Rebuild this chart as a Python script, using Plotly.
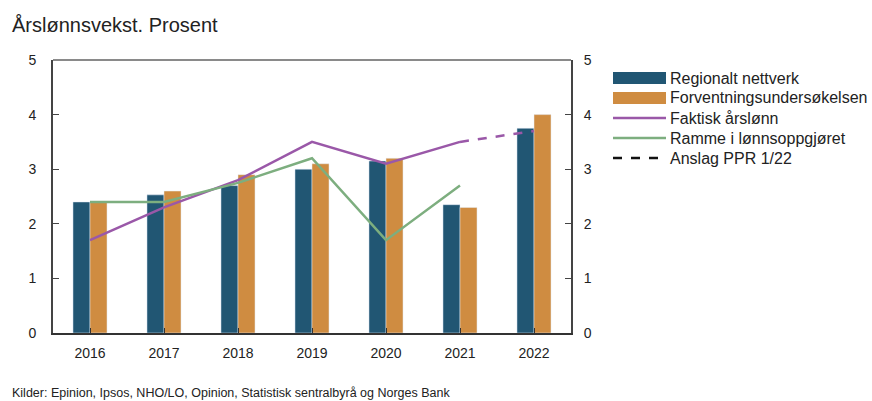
import plotly.graph_objects as go

years = ["2016", "2017", "2018", "2019", "2020", "2021", "2022"]
regionalt = [2.4, 2.53, 2.7, 3.0, 3.15, 2.35, 3.75]
forventning = [2.4, 2.6, 2.9, 3.1, 3.2, 2.3, 4.0]
faktisk_years = ["2016", "2017", "2018", "2019", "2020", "2021"]
faktisk = [1.7, 2.3, 2.8, 3.5, 3.1, 3.5]
anslag_years = ["2021", "2022"]
anslag = [3.5, 3.7]
ramme_years = ["2016", "2017", "2018", "2019", "2020", "2021"]
ramme = [2.4, 2.4, 2.75, 3.2, 1.7, 2.7]
y_ticks = [0, 1, 2, 3, 4, 5]

BLUE = "#215673"
ORANGE = "#CF8C41"
PURPLE = "#9A58A8"
GREEN = "#7DAE7F"
FONT = "Liberation Sans, Arial, sans-serif"
TEXT = "#222222"

# plot area in pixels
L, R, T, B = 53, 571, 60, 333
W, H = 872, 401


def px(x):
    return (x - L) / (R - L)


def py(y):
    return (B - y) / (B - T)


fig = go.Figure()

fig.add_bar(x=years, y=regionalt, marker_color=BLUE, name="Regionalt nettverk")
fig.add_bar(x=years, y=forventning, marker_color=ORANGE, name="Forventningsundersøkelsen")

fig.add_scatter(x=faktisk_years, y=faktisk, mode="lines", name="Faktisk årslønn",
                line=dict(color=PURPLE, width=2.5))
fig.add_scatter(x=anslag_years, y=anslag, mode="lines", name="Anslag PPR 1/22",
                line=dict(color=PURPLE, width=2.5, dash="dash"))
fig.add_scatter(x=ramme_years, y=ramme, mode="lines", name="Ramme i lønnsoppgjøret",
                line=dict(color=GREEN, width=2.5))

# second y axis on the right, sharing the left axis scale
fig.add_scatter(x=[None], y=[None], yaxis="y2", showlegend=False, hoverinfo="skip")

axis_font = dict(family=FONT, size=14, color=TEXT)

shapes = [dict(type="line", xref="paper", yref="paper", x0=0, x1=1, y0=1, y1=1,
               line=dict(color="#8a8a8a", width=2))]
annotations = [
    dict(text="Årslønnsvekst. Prosent", xref="paper", yref="paper",
         x=px(10), y=py(25), xanchor="left", yanchor="middle",
         showarrow=False, font=dict(family=FONT, size=20, color=TEXT)),
    dict(text="Kilder: Epinion, Ipsos, NHO/LO, Opinion, Statistisk sentralbyrå og Norges Bank",
         xref="paper", yref="paper", x=px(10), y=py(393),
         xanchor="left", yanchor="middle", showarrow=False,
         font=dict(family=FONT, size=12.5, color=TEXT)),
]

# legend drawn beside the plot: (label, colour, kind, dash)
legend_items = [
    ("Regionalt nettverk", BLUE, "box", None),
    ("Forventningsundersøkelsen", ORANGE, "box", None),
    ("Faktisk årslønn", PURPLE, "line", "solid"),
    ("Ramme i lønnsoppgjøret", GREEN, "line", "solid"),
    ("Anslag PPR 1/22", "#111111", "line", "dash"),
]
row_y = [78, 98, 118, 138, 158]
sw_x0, sw_x1, txt_x = 613, 666, 668
for (label, color, kind, dash), y in zip(legend_items, row_y):
    if kind == "box":
        shapes.append(dict(type="rect", xref="paper", yref="paper",
                           x0=px(sw_x0), x1=px(sw_x1), y0=py(y + 6), y1=py(y - 6),
                           fillcolor=color, line=dict(width=0)))
    else:
        shapes.append(dict(type="line", xref="paper", yref="paper",
                           x0=px(sw_x0), x1=px(sw_x1), y0=py(y), y1=py(y),
                           line=dict(color=color, width=2.5, dash=dash)))
    annotations.append(dict(text=label, xref="paper", yref="paper",
                            x=px(txt_x), y=py(y), xanchor="left", yanchor="middle",
                            showarrow=False, font=dict(family=FONT, size=16, color=TEXT)))

fig.update_layout(
    width=W, height=H,
    margin=dict(l=L, r=W - R, t=T, b=H - B),
    paper_bgcolor="white", plot_bgcolor="white",
    barmode="group", bargap=0.54, bargroupgap=0,
    showlegend=False,
    font=dict(family=FONT, size=14, color=TEXT),
    xaxis=dict(
        type="category", range=[-0.5, 6.5],
        showline=True, linecolor="#333333", linewidth=2,
        ticks="inside", ticklen=5, tickcolor="#333333",
        tickfont=axis_font, ticklabelstandoff=6,
        showgrid=False, zeroline=False,
    ),
    yaxis=dict(
        range=[0, 5], tickvals=y_ticks,
        showline=True, linecolor="#444444", linewidth=2,
        ticks="inside", ticklen=6, tickcolor="#444444",
        tickfont=axis_font, ticklabelstandoff=12,
        showgrid=False, zeroline=False,
    ),
    yaxis2=dict(
        range=[0, 5], tickvals=y_ticks, overlaying="y", side="right",
        showline=True, linecolor="#444444", linewidth=2,
        ticks="inside", ticklen=6, tickcolor="#444444",
        tickfont=axis_font, ticklabelstandoff=8,
        showgrid=False, zeroline=False,
    ),
    shapes=shapes,
    annotations=annotations,
)

fig.write_html("out.html")
